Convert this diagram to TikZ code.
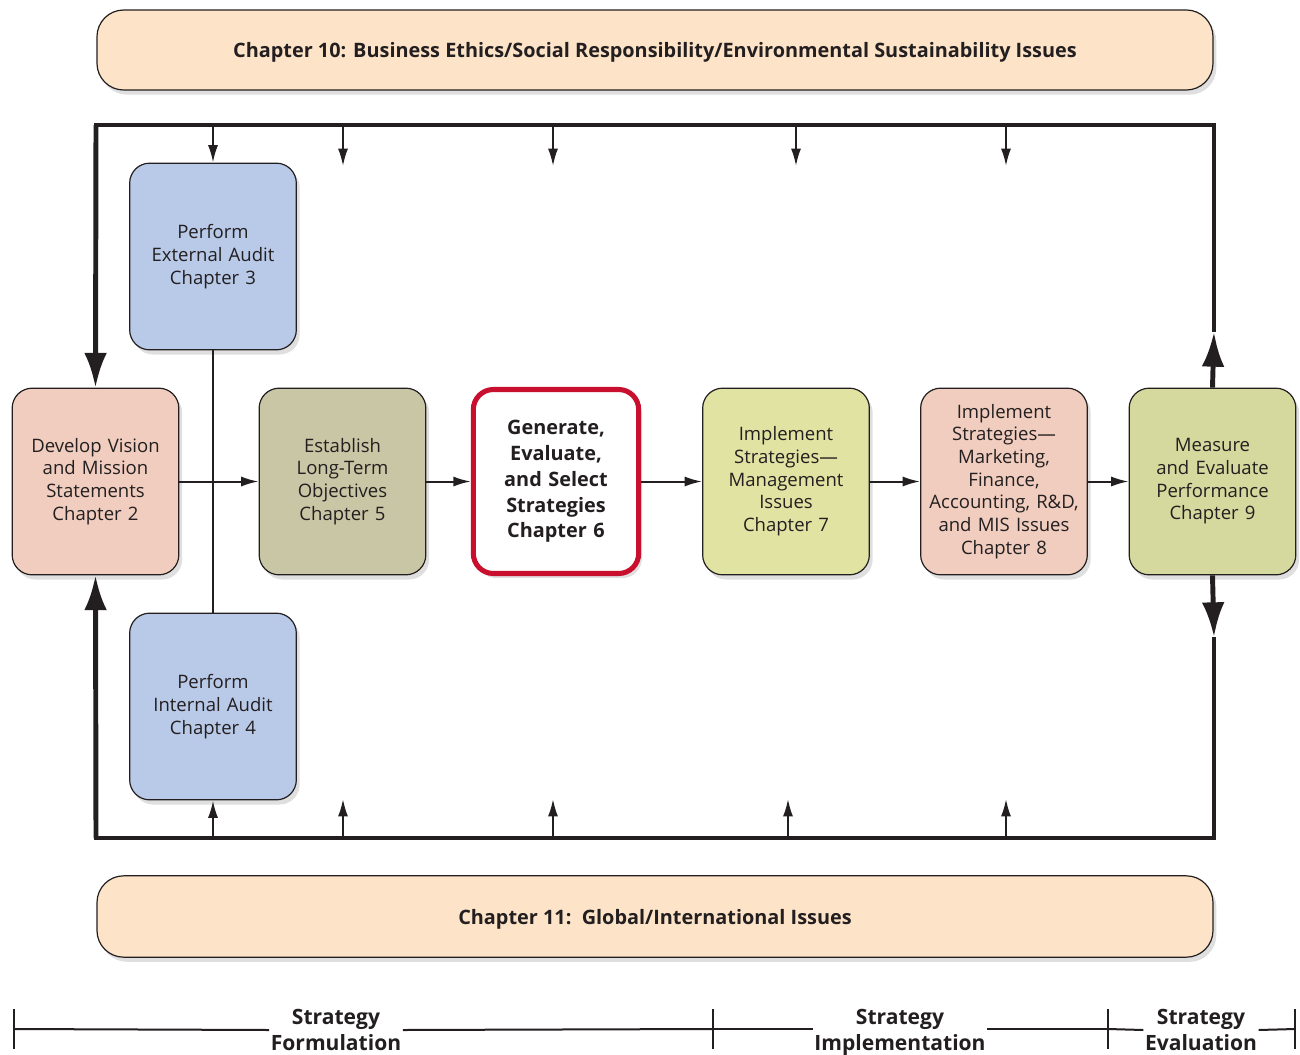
\documentclass[tikz,border=0pt]{standalone}
\usepackage{fontspec}
\setmainfont{Open Sans}
\usetikzlibrary{arrows.meta,shadows}
\definecolor{banner}{RGB}{253,228,200}
\definecolor{peach}{RGB}{240,205,190}
\definecolor{audit}{RGB}{185,201,232}
\definecolor{khaki}{RGB}{201,198,165}
\definecolor{lime}{RGB}{225,227,163}
\definecolor{olive}{RGB}{213,217,158}
\definecolor{redb}{RGB}{200,16,46}
\definecolor{ink}{RGB}{35,31,32}
\begin{document}
\begin{tikzpicture}[x=0.75pt,y=-0.75pt,
  shad/.style={drop shadow={opacity=0.25,shadow xshift=2.5pt,shadow yshift=-3.5pt}},
  box/.style={draw=ink,line width=0.9pt,rounded corners=15pt,minimum width=125pt,
    minimum height=140pt,align=center,text width=122pt,inner sep=1pt,
    font=\fontsize{13.9}{17}\selectfont,text=ink,shad},
  bannerbox/.style={draw=ink,line width=0.9pt,fill=banner,rounded corners=20pt,
    minimum width=837pt,minimum height=60pt,text depth=0pt,
    font=\bfseries\fontsize{14.9}{17}\selectfont,text=ink,shad},
  frame/.style={line width=3.7pt,draw=ink},
  bigtip/.style={-{Latex[length=26pt,width=17pt]}},
  thin/.style={line width=1.5pt,draw=ink},
  smalltip/.style={-{Latex[length=13pt,width=7.5pt]}},
  phase/.style={fill=white,align=center,inner xsep=1pt,inner ysep=0pt,
    font=\bfseries\fontsize{15.8}{19.5}\selectfont,text=ink},
  tick/.style={line width=1.5pt,draw=ink}]
\useasboundingbox (0,0) rectangle (1300,1054);

% banners
\node[bannerbox] (top) at (655,50) {Chapter 10: Business Ethics/Social Responsibility/Environmental Sustainability Issues};
\node[bannerbox,minimum height=61pt] (bot) at (655,916.5) {Chapter 11:\ \ Global/International Issues};

% boxes
\node[box,fill=peach] (dev) at (95.5,481.5) {Develop Vision\\and Mission\\Statements\\Chapter 2};
\node[box,fill=audit] (ext) at (213,256.5) {Perform\\External Audit\\Chapter 3\\[44pt]};
\node[box,fill=audit] (int) at (213,706.5) {Perform\\Internal Audit\\Chapter 4\\[44pt]};
\node[box,fill=khaki] (est) at (342.5,481.5) {Establish\\Long-Term\\Objectives\\Chapter 5};
\node[box,fill=white,draw=redb,line width=3.8pt,minimum width=122pt,minimum height=138pt,
  font=\bfseries\fontsize{14.9}{19.3}\selectfont] (gen) at (556,481.5) {Generate,\\Evaluate,\\and Select\\Strategies\\Chapter 6};
\node[box,fill=lime] (imp7) at (786,481.5) {Implement\\Strategies---\\Management\\Issues\\Chapter 7};
\node[box,fill=peach] (imp8) at (1004,481.5) {Implement\\Strategies---\\Marketing,\\Finance,\\Accounting, R\&D,\\and MIS Issues\\Chapter 8};
\node[box,fill=olive] (meas) at (1212.5,481.5) {Measure\\and Evaluate\\Performance\\Chapter 9};

% frame coordinates
\coordinate (tl) at (96,125);
\coordinate (tr) at (1214,125);
\coordinate (bl) at (96,838);
\coordinate (br) at (1214,838);
\coordinate (upmid) at (1214,332);
\coordinate (dnmid) at (1214,637);

% frame
\draw[frame,line cap=rect] (tl) -- (tr);
\draw[frame,line cap=rect] (bl) -- (br);
\draw[frame,bigtip] (tl) -- (dev.north);
\draw[frame,bigtip] (bl) -- (dev.south);
\draw[frame,bigtip] (meas.north) -- (upmid);
\draw[frame] (upmid) -- (tr);
\draw[frame,bigtip] (meas.south) -- (dnmid);
\draw[frame] (dnmid) -- (br);

% small arrows from top
\coordinate (ta) at (213,125);
\draw[thin,smalltip] (ta) -- (ext.north);
\foreach \x/\n in {343/a,553/b,796/c,1006/d}{
  \coordinate (t\n) at (\x,125);
  \coordinate (t\n e) at (\x,166);
  \draw[thin,smalltip] (t\n) -- (t\n e);
}
% small arrows from bottom
\coordinate (ba) at (213,838);
\draw[thin,smalltip] (ba) -- (int.south);
\foreach \x/\n in {343/a,553/b,788/c,1006/d}{
  \coordinate (b\n) at (\x,838);
  \coordinate (b\n e) at (\x,799);
  \draw[thin,smalltip] (b\n) -- (b\n e);
}

% audit link
\draw[thin] (ext.south) -- (int.north);

% main flow
\draw[thin,smalltip] (dev.east) -- (est.west);
\draw[thin,smalltip] (est.east) -- (gen.west);
\draw[thin,smalltip] (gen.east) -- (imp7.west);
\draw[thin,smalltip] (imp7.east) -- (imp8.west);
\draw[thin,smalltip] (imp8.east) -- (meas.west);

% timeline
\coordinate (k1) at (14,1029);
\coordinate (k2) at (713,1029);
\coordinate (k3) at (1108,1029);
\coordinate (k4) at (1295,1029);
\foreach \k in {k1,k2,k3,k4}{
  \draw[tick] ([yshift=15pt]\k) -- ([yshift=-15pt]\k);
}
\node[phase] (form) at (336,1030) {Strategy\\Formulation};
\node[phase] (impl) at (900,1032) {Strategy\\Implementation};
\node[phase] (eval) at (1201,1030) {Strategy\\Evaluation};
\draw[tick] (k1) -- (form.west);
\draw[tick] (form.east) -- (k2);
\draw[tick] (k2) -- (impl.west |- k2);
\draw[tick] (impl.east |- k3) -- (k3);
\draw[tick] (k3) -- (eval.west);
\draw[tick] (eval.east) -- (k4);
\end{tikzpicture}
\end{document}
